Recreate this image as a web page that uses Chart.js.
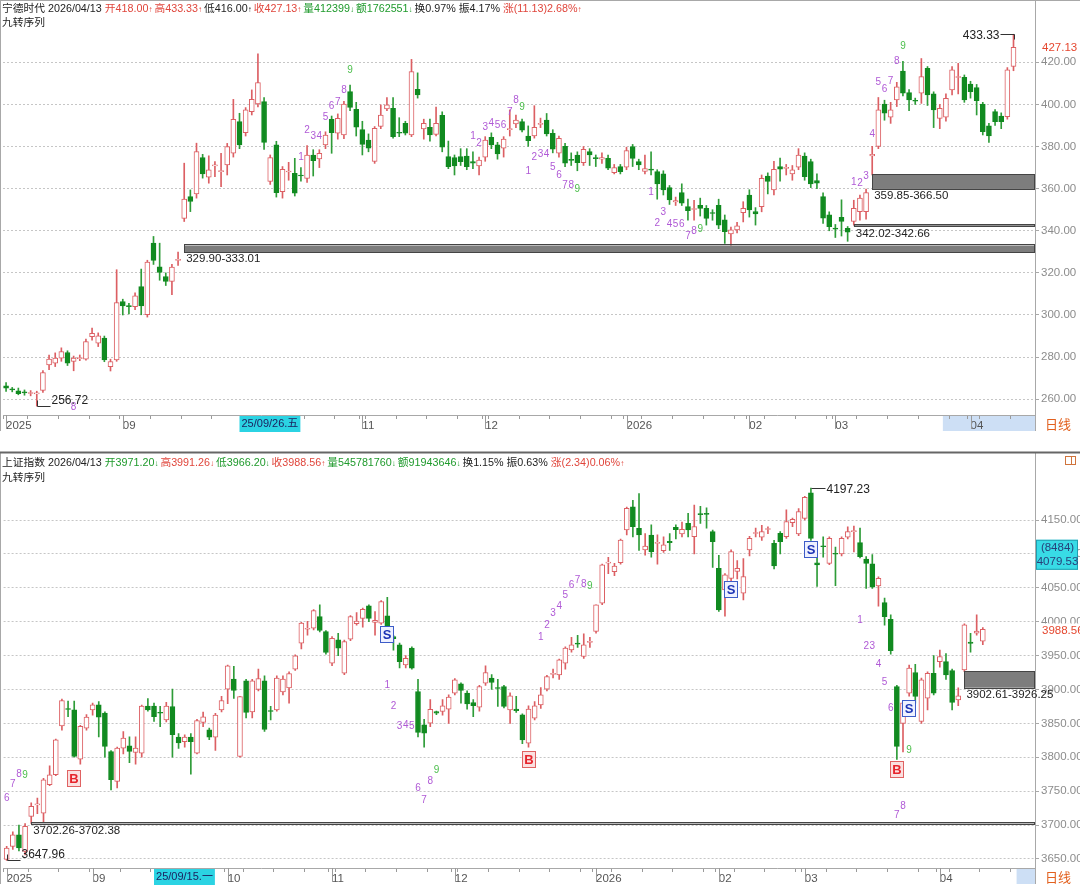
<!DOCTYPE html>
<html>
<head>
<meta charset="utf-8">
<script src="https://cdn.jsdelivr.net/npm/chart.js@4.4.1/dist/chart.umd.min.js"></script>
<style>
body{margin:0;background:#fff;width:1080px;height:886px;overflow:hidden;position:relative;font-family:"Liberation Sans","Noto Sans CJK SC",sans-serif}
canvas{position:absolute;left:0}
.hdr{position:absolute;left:2px;font-size:10.75px;line-height:14px;color:#222;white-space:nowrap;z-index:2}
.hdr i{font-style:normal;font-size:8px;margin-right:2px}
.r{color:#e0463c}.g{color:#1f9a2c}
</style>
</head>
<body>
<canvas id="c1" width="1080" height="432" style="top:0"></canvas>
<canvas id="c2" width="1080" height="436" style="top:450px"></canvas>
<div class="hdr" style="top:1px">宁德时代 2026/04/13 <span class="r">开418.00<i>↑</i>高433.33<i>↑</i></span>低416.00<i>↑</i><span class="r">收427.13<i>↑</i></span><span class="g">量412399<i>↓</i>额1762551<i>↓</i></span>换0.97% 振4.17% <span class="r">涨(11.13)2.68%<i>↑</i></span></div>
<div class="hdr" style="top:15px">九转序列</div>
<div class="hdr" style="top:455px">上证指数 2026/04/13 <span class="g">开3971.20<i>↓</i></span><span class="r">高3991.26<i>↓</i></span><span class="g">低3966.20<i>↓</i></span><span class="r">收3988.56<i>↑</i></span><span class="g">量545781760<i>↓</i>额91943646<i>↓</i></span>换1.15% 振0.63% <span class="r">涨(2.34)0.06%<i>↑</i></span></div>
<div class="hdr" style="top:470px">九转序列</div>
<script>
// ---- 宁德时代 daily candles ----
const topOpen = [
266.4,264.6,264.0,263.2,262.7,262.5,264.2,276.3,277.1,279.5,
282.2,278.0,279.3,279.0,289.7,286.6,289.0,275.5,278.7,306.4,
304.2,304.0,313.5,300.1,334.1,322.9,318.3,315.9,325.9,345.9,
356.2,357.5,374.8,365.4,370.8,368.1,371.3,376.8,391.8,386.6,
396.6,400.2,401.3,363.4,380.8,358.6,367.9,367.3,366.3,364.9,
376.0,374.1,380.8,392.9,386.3,385.5,406.1,397.7,
388.0,383.1,372.9,389.5,397.9,398.2,386.5,391.0,385.5,407.2,
388.4,389.1,385.8,394.8,375.2,374.7,375.2,375.5,372.8,370.8,
374.9,384.4,380.8,379.2,388.0,390.8,391.8,385.0,385.0,390.5,
392.6,386.3,376.8,380.1,373.8,376.0,372.4,377.6,374.5,374.0,
374.4,367.6,370.5,370.2,380.0,372.8,368.2,369.0,368.1,367.0,
360.5,353.7,358.1,351.5,350.1,352.1,350.6,348.5,352.1,
345.2,338.5,340.4,348.6,357.0,349.1,351.5,366.0,359.4,370.5,
369.6,367.0,370.2,375.5,372.9,363.8,356.2,347.6,341.0,346.4,
341.2,344.4,349.1,349.1,375.5,380.0,400.2,393.9,402.1,415.9,
405.6,401.7,405.3,417.2,405.0,393.4,393.9,406.9,412.8,412.9,
409.7,408.0,400.2,389.8,396.6,394.5,394.2,418.00];
const topHigh = [
267.9,265.6,265.3,264.4,264.1,263.8,273.6,281.0,282.0,284.4,
283.0,280.5,281.0,288.5,293.8,291.5,290.0,279.0,321.5,307.5,
305.5,310.5,321.8,326.0,337.3,334.1,320.0,324.0,329.90,372.1,
359.4,381.6,376.3,375.6,372.9,376.8,381.5,402.4,395.8,398.5,
406.9,424.0,403.3,376.0,382.5,370.5,372.5,374.4,370.0,380.5,
378.5,378.5,387.0,394.5,395.5,401.5,409.2,401.0,
392.0,386.0,389.5,399.8,403.3,403.3,393.7,392.0,421.4,415.0,
393.0,393.0,398.7,396.5,382.6,376.0,379.0,379.0,377.5,375.0,
384.7,386.5,382.0,384.7,397.4,395.0,393.0,389.8,399.4,393.5,
395.7,388.0,385.0,381.5,377.0,377.5,380.0,379.0,376.0,377.0,
376.0,371.5,371.5,379.7,381.0,374.0,376.0,377.5,369.0,368.5,
361.5,356.0,362.3,355.0,354.5,355.5,352.0,350.0,355.0,
347.5,341.7,344.0,353.8,359.5,351.0,366.5,367.5,373.0,374.5,
371.5,371.0,379.0,377.0,374.0,367.0,358.0,349.0,343.0,354.7,
342.02,354.5,357.0,359.85,380.1,403.3,402.0,401.0,410.5,420.5,
407.0,403.0,421.8,418.0,406.0,400.0,405.0,418.0,419.5,414.0,
411.0,409.5,401.0,391.0,397.5,396.0,417.5,433.33];
const topLow = [
263.7,263.5,262.1,261.9,261.6,256.72,263.2,274.0,275.5,278.0,
276.0,273.5,278.3,278.5,288.0,285.0,277.8,273.4,278.0,300.0,
300.5,302.5,300.1,299.0,324.0,316.5,314.0,309.6,323.5,344.4,
349.1,355.5,365.0,362.6,365.7,361.0,366.5,375.0,379.0,385.0,
395.0,398.8,378.6,362.0,356.0,355.5,364.0,356.5,363.5,363.0,
366.0,370.0,379.0,376.8,383.5,383.7,397.0,385.0,
376.0,377.5,372.0,388.5,397.0,384.0,384.7,385.5,384.7,403.0,
383.5,382.6,385.0,377.5,369.5,366.5,371.0,369.0,369.5,366.5,
373.0,379.0,374.0,375.0,385.0,389.0,387.0,380.1,384.0,389.0,
385.0,377.0,375.0,370.5,371.0,368.5,371.0,371.0,370.5,372.0,
369.0,367.0,367.0,369.0,370.5,369.0,367.0,366.5,355.0,357.0,
352.5,352.0,352.0,345.0,345.0,347.0,342.7,345.0,341.0,
334.0,333.01,339.0,344.2,346.5,342.7,349.0,357.5,357.0,363.5,
366.5,364.0,369.0,364.0,360.5,360.0,343.5,340.0,336.8,337.5,
335.0,342.66,345.0,345.5,366.50,379.0,392.5,391.0,399.0,404.0,
397.0,400.0,400.5,399.5,389.0,388.5,392.0,404.5,405.0,401.0,
403.0,395.0,385.5,382.0,390.0,388.5,393.0,416.00];
const topClose = [
265.2,264.4,262.6,263.0,263.0,263.0,272.7,279.0,279.5,282.6,
277.1,279.5,279.6,287.4,291.3,290.1,278.7,277.9,305.9,304.3,
304.0,309.1,304.3,325.1,325.9,320.2,315.9,322.7,326.3,355.0,
353.9,377.6,367.0,368.9,370.9,368.3,380.0,392.9,380.8,397.4,
402.4,410.4,381.9,374.8,358.1,369.2,368.4,357.8,366.0,376.0,
373.3,376.8,385.5,386.6,393.4,400.2,398.6,389.2,
381.0,379.2,388.7,395.0,399.8,384.7,386.3,386.3,415.6,404.5,
391.0,385.5,391.0,379.7,370.5,370.8,372.8,370.5,372.1,373.6,
383.1,380.8,376.5,383.5,388.4,392.6,387.8,382.8,389.1,390.9,
386.0,378.7,383.9,372.1,373.4,372.4,378.7,376.0,374.3,374.8,
369.7,370.0,368.1,378.1,374.4,371.3,369.5,368.8,362.2,359.4,
354.6,354.3,353.1,349.6,350.3,350.6,345.9,348.2,342.7,
339.6,340.4,342.3,350.7,349.9,348.0,364.9,363.4,369.2,369.2,
369.8,368.9,376.0,365.7,362.3,362.6,346.0,342.0,340.8,344.4,
339.3,350.7,355.5,358.1,376.3,397.4,395.8,397.4,408.4,405.3,
402.1,401.5,413.2,404.5,397.4,398.2,402.9,416.4,412.9,402.1,
406.1,401.8,387.1,385.0,391.8,391.8,416.4,427.13];

// ---- 上证指数 daily candles ----
const shOpen = [
3649.4,3668.6,3685.8,3661.3,3712.8,3729.8,3717.7,3759.5,3774.3,3846.4,
3871.0,3870.0,3797.3,3843.0,3870.0,3877.4,3865.1,3808.6,3764.4,3813.5,
3817.0,3807.0,3806.2,3875.6,3875.6,3865.3,3855.3,3874.9,3829.7,3823.0,
3829.7,3806.0,3851.5,3840.5,3829.7,3870.0,3900.5,3915.2,3801.2,3912.7,
3867.0,3900.0,3912.7,3867.8,3870.0,3896.5,3902.5,3930.0,3968.3,3988.9,
3990.4,4007.5,3985.5,3938.8,3973.2,3924.1,3974.1,3997.0,4005.0,4023.3,
3999.0,3997.7,4008.5,3978.0,3966.0,3936.3,3960.9,3897.0,3848.0,3850.4,
3867.6,3867.6,3871.0,3894.6,3908.3,3894.6,3880.8,3874.0,3909.3,3916.7,
3902.0,3904.4,3870.0,3871.0,3862.6,3821.0,3857.7,3877.4,3900.5,3922.3,
3921.6,3938.8,3958.4,3967.3,3948.6,3969.5,3985.5,4027.2,4086.5,4073.9,
4087.1,4135.3,4169.6,4137.7,4105.8,4127.9,4115.5,4104.8,4118.6,4139.2,
4129.4,4145.1,4125.4,4158.4,4158.8,4132.8,4078.7,4046.8,4064.0,4074.0,
4041.9,4105.8,4130.1,4124.5,4136.0,4115.6,4130.4,4125.4,4146.0,4129.4,
4152.5,4190.0,4087.0,4110.8,4086.1,4100.0,4100.0,4124.5,4132.8,4116.6,
4092.5,4085.2,4052.7,4028.2,4003.6,3904.4,3850.0,3894.6,3925.0,3852.8,
3887.2,3924.0,3941.2,3941.2,3928.0,3884.8,3929.0,3970.0,3983.0,3971.20];
const shHigh = [
3668.6,3690.0,3700.0,3702.26,3733.0,3740.0,3769.0,3787.5,3827.0,3886.0,
3883.0,3883.0,3847.0,3863.0,3880.0,3882.0,3867.0,3810.0,3815.0,3838.0,
3830.0,3830.0,3877.0,3886.7,3880.0,3875.0,3881.0,3900.5,3835.0,3833.0,
3835.0,3856.0,3866.5,3843.0,3865.0,3890.0,3936.0,3934.0,3890.0,3915.0,
3915.0,3930.0,3920.0,3875.0,3920.0,3920.0,3926.0,3951.0,3999.0,4000.7,
4018.0,4025.0,3987.0,3978.0,3983.0,3973.0,4009.0,4013.5,4020.0,4025.0,
4015.0,4031.0,4036.0,3980.0,3968.3,3950.0,3963.0,3915.0,3856.0,3885.0,
3868.0,3885.0,3892.0,3916.0,3910.0,3898.0,3885.0,3906.0,3935.0,3922.0,
3915.0,3906.0,3895.0,3890.0,3864.0,3876.0,3882.0,3903.0,3921.0,3930.0,
3945.0,3963.0,3977.0,3980.0,3982.0,3977.0,4025.0,4085.0,4095.0,4086.0,
4122.0,4169.0,4179.0,4189.0,4130.0,4143.0,4128.0,4125.0,4130.0,4143.0,
4147.0,4160.0,4172.0,4170.0,4168.0,4135.0,4098.0,4071.0,4106.0,4090.0,
4093.0,4126.0,4138.0,4142.0,4140.0,4120.0,4133.0,4165.0,4153.0,4167.0,
4185.0,4197.23,4098.0,4125.0,4125.0,4110.0,4125.0,4140.0,4141.0,4138.0,
4096.0,4099.0,4066.0,4035.0,4010.0,3906.0,3883.0,3936.0,3937.0,3917.0,
3926.0,3950.0,3958.0,3953.0,3930.0,3902.61,3997.0,3983.0,4010.0,3991.26];
const shLow = [
3647.96,3664.0,3662.0,3656.0,3702.38,3717.0,3705.0,3758.0,3773.0,3840.0,
3860.0,3800.0,3790.0,3840.0,3862.0,3830.0,3800.0,3752.0,3755.0,3805.0,
3792.0,3790.0,3800.0,3868.0,3853.0,3845.0,3852.0,3800.0,3813.0,3815.0,
3775.0,3805.0,3845.0,3826.0,3810.0,3867.0,3879.0,3887.0,3800.0,3858.0,
3858.0,3898.0,3838.0,3855.0,3868.0,3892.0,3880.0,3928.0,3960.0,3980.0,
3988.0,3985.0,3952.0,3935.0,3950.0,3922.0,3972.0,3995.0,3992.0,4000.0,
3980.0,3996.0,3983.0,3958.0,3932.0,3932.0,3930.0,3830.0,3815.0,3845.0,
3863.0,3862.0,3850.0,3892.0,3880.0,3871.0,3860.0,3868.0,3906.0,3900.0,
3875.0,3873.0,3850.0,3866.0,3820.0,3815.0,3855.0,3872.0,3898.0,3917.0,
3915.0,3930.0,3955.0,3962.0,3946.0,3962.0,3983.0,4025.0,4071.0,4068.0,
4085.0,4128.0,4125.0,4105.0,4098.0,4095.0,4085.0,4102.0,4105.0,4122.0,
4125.0,4125.0,4100.0,4145.0,4138.0,4080.0,4015.0,4008.0,4060.0,4063.0,
4032.0,4097.0,4125.0,4120.0,4130.0,4078.0,4100.0,4123.0,4140.0,4127.0,
4150.0,4120.0,4052.0,4095.0,4084.0,4053.0,4097.0,4122.0,4103.0,4094.0,
4049.0,4049.0,4023.0,3995.0,3952.0,3797.0,3808.0,3890.0,3880.0,3850.0,
3870.0,3892.0,3933.0,3915.0,3870.0,3876.0,3926.25,3955.0,3980.0,3966.20];
const shClose = [
3666.2,3685.8,3666.2,3698.1,3727.6,3730.0,3766.9,3774.3,3825.8,3883.8,
3870.5,3801.2,3845.5,3859.2,3877.4,3859.2,3815.9,3766.9,3813.5,3828.3,
3808.6,3813.5,3875.6,3870.0,3859.8,3865.0,3875.6,3833.2,3821.2,3829.7,
3823.0,3854.2,3859.8,3829.7,3862.4,3883.8,3934.9,3898.5,3889.7,3866.1,
3912.7,3916.2,3841.0,3867.5,3916.7,3915.2,3923.6,3949.6,3997.8,3989.2,
4016.4,3987.0,3954.5,3975.6,3960.9,3970.8,4007.5,4001.0,4018.4,4005.0,
4002.0,4029.7,3985.5,3975.0,3941.2,3946.1,3931.4,3836.6,3835.6,3870.6,
3865.2,3875.9,3888.7,3914.2,3898.5,3878.9,3876.0,3904.4,3925.0,3910.3,
3901.5,3875.0,3890.6,3868.6,3825.8,3871.0,3875.9,3892.1,3919.2,3923.0,
3943.7,3960.9,3965.8,3967.0,3965.8,3969.8,4024.8,4083.7,4087.1,4082.2,
4120.5,4167.2,4140.2,4127.9,4111.7,4103.3,4115.8,4113.2,4116.5,4135.8,
4136.2,4135.3,4140.2,4158.0,4158.4,4118.0,4017.3,4069.0,4103.3,4078.8,
4066.5,4123.0,4130.6,4132.8,4136.5,4082.2,4118.0,4147.5,4151.0,4162.3,
4183.4,4123.0,4083.7,4110.5,4123.0,4099.5,4123.0,4132.8,4133.0,4096.0,
4086.0,4050.8,4064.0,4007.5,3957.4,3816.0,3880.5,3931.4,3889.7,3914.2,
3924.0,3894.6,3948.6,3921.6,3880.8,3890.6,3995.3,3968.0,3986.0,3988.56];

// axis labels
const SLOTS = 168;
const topMonthIdx = [0, 19, 58, 78, 101, 121, 135, 157];
const topMonthTxt = ['2025', '09', '11', '12', '2026', '02', '03', '04'];
const shMonthIdx = [0, 14, 36, 53, 73, 96, 116, 130, 152];
const shMonthTxt = ['2025', '09', '10', '11', '12', '2026', '02', '03', '04'];
const topTicks = [260, 280, 300, 320, 340, 360, 380, 400, 420];
const shTicks = [3650, 3700, 3750, 3800, 3850, 3900, 3950, 4000, 4050, 4100, 4150];

// unfilled gaps
const topGapIdx = [29, 138, 141];
const topGapLo = [329.90, 342.02, 359.85];
const topGapHi = [333.01, 342.66, 366.50];
const shGapIdx = [4, 156];
const shGapLo = [3702.26, 3902.61];
const shGapHi = [3702.38, 3926.25];

// 九转序列 numbers: candle, number, price level where drawn
const topSeqIdx = [11, 48,49,50,51,52,53,54,55,56, 76,77,78,79,80,81,82,83,84, 85,86,87,88,89,90,91,92,93,
  105,106,107,108,109,110,111,112,113, 138,139,140,141,142,143,144,145,146];
const topSeqNum = [8, 1,2,3,4,5,6,7,8,9, 1,2,3,4,5,6,7,8,9, 1,2,3,4,5,6,7,8,9, 1,2,3,4,5,6,7,8,9, 1,2,3,4,5,6,7,8,9];
const topSeqAt = [256, 374.7,387.9,385,385,393.9,399.3,400.8,406.8,416,
  385,381.5,389.1,391,389.9,389.9,396.5,402.1,398.6,
  368.4,374.7,376.5,376.5,370,366.2,361.4,361.4,359.7,
  358.3,343.6,348.8,343.2,343.2,343.2,337.2,339.6,340.7,
  363,362.5,366,386,410.3,407.3,410.8,420.3,427.7];
const shSeqIdx = [0,1,2,3, 62,63,64,65,66,67,68,69,70, 87,88,89,90,91,92,93,94,95, 139,140,141,142,143,144,145,146,147];
const shSeqNum = [6,7,8,9, 1,2,3,4,5,6,7,8,9, 1,2,3,4,5,6,7,8,9, 1,2,3,4,5,6,7,8,9];
const shSeqAt = [3739.5,3760.2,3775.4,3773.9,
  3906.6,3875.7,3845.2,3847.6,3845.2,3754.3,3737,3764,3780.2,
  3976.4,3995.1,4012.4,4022.1,4039.4,4053.1,4060.5,4055.6,4052.7,
  4001.5,3963.1,3964.2,3937.6,3910,3872.2,3714.9,3728.2,3809.8];

// B / S signals
const shSigIdx = [11, 85, 145, 62, 118, 131, 147];
const shSigTxt = ['B', 'B', 'B', 'S', 'S', 'S', 'S'];
const shSigAt = [3769.5, 3797.5, 3782.7, 3981.9, 4048.2, 4107.2, 3872.7];

const RED = '#dc5f63', GREEN = '#118a20', WICKG = '#2e9c38', PURPLE = '#b05ad6', NINE = '#4cbf4c';
const FONT = '"Liberation Sans", "Noto Sans CJK SC", sans-serif';

function candleSets(o, h, l, c) {
  const up = o.map((v, i) => c[i] >= v);
  return [
    {
      data: o.map((v, i) => [Math.min(v, c[i]), Math.max(v, c[i])]),
      backgroundColor: up.map(u => u ? '#ffffff' : GREEN),
      borderColor: up.map(u => u ? RED : GREEN),
      borderWidth: 1, borderSkipped: false, barThickness: 5, minBarLength: 1,
      grouped: false, order: 0
    },
    {
      data: l.map((v, i) => [v, h[i]]),
      backgroundColor: up.map(u => u ? RED : WICKG),
      barThickness: 1, grouped: false, order: 1
    }
  ];
}

function xAxis(monthIdx, axisH) {
  return {
    type: 'category', offset: true,
    grid: {
      display: true, drawOnChartArea: false, tickLength: 4,
      tickColor: ctx => (monthIdx.includes(ctx.index) || ctx.index % 5 === 4) ? '#9a9a9a' : 'rgba(0,0,0,0)'
    },
    border: { display: true, color: '#a8a8a8' },
    ticks: { autoSkip: false, maxRotation: 0, minRotation: 0, align: 'start', padding: 0, color: '#555', font: { family: FONT, size: 11.5 } },
    afterFit: s => { s.height = axisH; s.paddingLeft = 0; s.paddingRight = 0; }
  };
}

function yAxis(min, max, ticks) {
  return {
    position: 'right', min: min, max: max,
    afterBuildTicks: s => { s.ticks = ticks.map(v => ({ value: v })); },
    afterFit: s => { s.width = 45; s.paddingTop = 0; s.paddingBottom = 0; },
    grid: { color: '#c6c6c6', tickLength: 4, tickColor: '#a8a8a8' },
    border: { display: true, color: '#a8a8a8', dash: [2, 2] },
    ticks: { padding: 2, color: '#8c8c8c', font: { family: FONT, size: 11.5 }, callback: v => v.toFixed(2) }
  };
}

function overlay(s) {
  return {
    id: 'overlay',
    beforeDraw(chart) {
      const { ctx, chartArea: a, scales: { x } } = chart;
      const half = x.width / SLOTS / 2;
      const sx = x.getPixelForValue(s.selFrom) - half;
      ctx.save();
      ctx.fillStyle = '#cddff5';
      ctx.fillRect(sx, a.bottom + 1, a.right - sx, 15);
      ctx.restore();
    },
    afterDatasetsDraw(chart) {
      const { ctx, chartArea: a, scales: { x, y } } = chart;
      ctx.save();
      // gaps
      s.gapIdx.forEach((i, k) => {
        const x0 = x.getPixelForValue(i);
        const yt = y.getPixelForValue(s.gapHi[k]), yb = y.getPixelForValue(s.gapLo[k]);
        ctx.fillStyle = '#7d7d7d';
        ctx.fillRect(x0, yt, a.right - x0, Math.max(yb - yt, 1));
        ctx.strokeStyle = '#444';
        ctx.lineWidth = 1;
        ctx.strokeRect(Math.round(x0) + 0.5, Math.round(yt) - 0.5, a.right - Math.round(x0) - 1, Math.max(Math.round(yb - yt), 1) + 1);
        ctx.fillStyle = '#222';
        ctx.font = '11.5px ' + FONT;
        ctx.textAlign = 'left';
        ctx.textBaseline = 'middle';
        ctx.fillText(s.gapLo[k].toFixed(2) + '-' + s.gapHi[k].toFixed(2), x0 + 2, yb + 7);
      });
      // nine-turn digits
      ctx.font = '10px ' + FONT;
      ctx.textAlign = 'center';
      ctx.textBaseline = 'middle';
      s.seqIdx.forEach((i, k) => {
        ctx.fillStyle = s.seqNum[k] === 9 ? NINE : PURPLE;
        ctx.fillText(String(s.seqNum[k]), x.getPixelForValue(i), y.getPixelForValue(s.seqAt[k]));
      });
      // B/S signals
      (s.sigIdx || []).forEach((i, k) => {
        const cx = Math.round(x.getPixelForValue(i)), cy = Math.round(y.getPixelForValue(s.sigAt[k]));
        const b = s.sigTxt[k] === 'B';
        ctx.fillStyle = b ? '#fbe0e0' : '#eef1ff';
        ctx.fillRect(cx - 7, cy - 8, 14, 17);
        ctx.strokeStyle = b ? '#e06262' : '#3d5cc8';
        ctx.strokeRect(cx - 6.5, cy - 7.5, 13, 16);
        ctx.fillStyle = b ? '#e6242c' : '#1b33b5';
        ctx.font = 'bold 13px ' + FONT;
        ctx.fillText(s.sigTxt[k], cx, cy + 1);
      });
      // highest / lowest labels
      const hiV = Math.max(...s.high), hiI = s.high.indexOf(hiV);
      const loV = Math.min(...s.low), loI = s.low.indexOf(loV);
      ctx.strokeStyle = '#333';
      ctx.fillStyle = '#222';
      ctx.font = '12px ' + FONT;
      ctx.textBaseline = 'middle';
      let hx = Math.round(x.getPixelForValue(hiI)) + 0.5, hy = Math.round(y.getPixelForValue(hiV)) + 0.5;
      ctx.beginPath();
      if (s.hiLeft) {
        ctx.moveTo(hx - 14, hy); ctx.lineTo(hx, hy); ctx.lineTo(hx, hy + 5); ctx.stroke();
        ctx.textAlign = 'right'; ctx.fillText(hiV.toFixed(2), hx - 15, hy + 1);
      } else {
        ctx.moveTo(hx, hy); ctx.lineTo(hx + 14, hy); ctx.stroke();
        ctx.textAlign = 'left'; ctx.fillText(hiV.toFixed(2), hx + 15, hy + 1);
      }
      let lx = Math.round(x.getPixelForValue(loI)) + 0.5, ly = Math.round(y.getPixelForValue(loV)) + 0.5;
      ctx.beginPath();
      ctx.moveTo(lx, ly - 6); ctx.lineTo(lx, ly); ctx.lineTo(lx + 13, ly); ctx.stroke();
      ctx.textAlign = 'left'; ctx.fillText(loV.toFixed(2), lx + 14, ly - 6);
      ctx.restore();
    },
    afterDraw(chart) {
      const { ctx, chartArea: a, scales: { x, y } } = chart;
      ctx.save();
      // month separators on x axis
      ctx.strokeStyle = '#9a9a9a';
      s.monthIdx.forEach(i => {
        const px = Math.round(x.getPixelForValue(i)) + 0.5;
        ctx.beginPath(); ctx.moveTo(px, a.bottom); ctx.lineTo(px, a.bottom + 14); ctx.stroke();
      });
      // cursor date
      ctx.font = '11px ' + FONT;
      ctx.textBaseline = 'middle';
      ctx.textAlign = 'left';
      const dx = x.getPixelForValue(s.dateIdx);
      const dw = ctx.measureText(s.dateTxt).width + 4;
      ctx.fillStyle = '#2bd3e3';
      ctx.fillRect(dx, a.bottom + 1, dw, 16);
      ctx.fillStyle = '#1d2360';
      ctx.fillText(s.dateTxt, dx + 2, a.bottom + 9);
      // 日线
      ctx.fillStyle = '#e2601e';
      ctx.font = '13px "Noto Sans CJK SC"';
      ctx.fillText('日线', a.right + 10, a.bottom + 9);
      // frame
      ctx.strokeStyle = '#a8a8a8';
      ctx.beginPath();
      ctx.moveTo(a.right + 0.5, a.bottom); ctx.lineTo(a.right + 0.5, a.bottom + 16);
      ctx.moveTo(0.5, s.boxTop); ctx.lineTo(0.5, a.bottom + 16);
      ctx.stroke();
      ctx.strokeStyle = s.boxTop ? '#666' : '#a8a8a8';
      ctx.lineWidth = s.boxTop ? 2 : 1;
      ctx.beginPath();
      ctx.moveTo(0, s.boxTop + 0.5); ctx.lineTo(chart.width, s.boxTop + 0.5);
      ctx.stroke();
      ctx.lineWidth = 1;
      if (s.boxTop) {
        ctx.strokeStyle = '#d0743c';
        ctx.strokeRect(1065.5, s.boxTop + 4.5, 10, 8);
        ctx.beginPath(); ctx.moveTo(1071.5, s.boxTop + 4); ctx.lineTo(1071.5, s.boxTop + 13); ctx.stroke();
      }
      // last price on the axis
      const ly = y.getPixelForValue(s.last);
      ctx.font = '11.5px ' + FONT;
      ctx.fillStyle = '#fff';
      ctx.fillRect(a.right + 5, ly - 6, chart.width - a.right - 5, 13);
      ctx.fillStyle = '#e5472f';
      ctx.fillText(s.last.toFixed(2), a.right + 7, ly + 1);
      // cursor value box
      if (s.cursor) {
        const cy = y.getPixelForValue(s.cursor[1]);
        ctx.fillStyle = '#38dbe6';
        ctx.fillRect(a.right + 1, cy - 28, chart.width - a.right - 3, 30);
        ctx.strokeStyle = '#1f9fb0';
        ctx.strokeRect(a.right + 1.5, cy - 27.5, chart.width - a.right - 4, 29);
        ctx.fillStyle = '#27407a';
        ctx.textAlign = 'center';
        const cx = (a.right + chart.width) / 2;
        ctx.fillText(s.cursor[0], cx, cy - 20);
        ctx.fillText(s.cursor[1].toFixed(2), cx, cy - 6);
      }
      ctx.restore();
    }
  };
}

function labelsFor(idx, txt) {
  return Array.from({ length: SLOTS }, (_, i) => { const k = idx.indexOf(i); return k < 0 ? '' : txt[k]; });
}

function build(id, o, h, l, c, cfg, spec) {
  return new Chart(document.getElementById(id), {
    type: 'bar',
    data: { labels: labelsFor(cfg.monthIdx, cfg.monthTxt), datasets: candleSets(o, h, l, c) },
    options: {
      responsive: false, animation: false, devicePixelRatio: 1,
      layout: { padding: { left: cfg.padLeft, top: cfg.padTop, right: 0, bottom: 0 } },
      plugins: { legend: { display: false }, tooltip: { enabled: false } },
      scales: { x: xAxis(cfg.monthIdx, cfg.axisH), y: yAxis(cfg.min, cfg.max, cfg.ticks) }
    },
    plugins: [overlay(spec)]
  });
}

build('c1', topOpen, topHigh, topLow, topClose,
  { monthIdx: topMonthIdx, monthTxt: topMonthTxt, padLeft: 3, padTop: 0, axisH: 17, min: 252.5, max: 449.6, ticks: topTicks },
  { gapIdx: topGapIdx, gapLo: topGapLo, gapHi: topGapHi, seqIdx: topSeqIdx, seqNum: topSeqNum, seqAt: topSeqAt,
    high: topHigh, low: topLow, hiLeft: true, monthIdx: topMonthIdx, dateIdx: 38, dateTxt: '25/09/26.五',
    selFrom: 153, boxTop: 0, last: 427.13 });

build('c2', shOpen, shHigh, shLow, shClose,
  { monthIdx: shMonthIdx, monthTxt: shMonthTxt, padLeft: 3.6, padTop: 2, axisH: 18, min: 3636.7, max: 4250.3, ticks: shTicks },
  { gapIdx: shGapIdx, gapLo: shGapLo, gapHi: shGapHi, seqIdx: shSeqIdx, seqNum: shSeqNum, seqAt: shSeqAt,
    sigIdx: shSigIdx, sigTxt: shSigTxt, sigAt: shSigAt,
    high: shHigh, low: shLow, hiLeft: false, monthIdx: shMonthIdx, dateIdx: 24, dateTxt: '25/09/15.一',
    selFrom: 165, boxTop: 2, last: 3988.56, cursor: ['(8484)', 4079.53] });
</script>
</body>
</html>
